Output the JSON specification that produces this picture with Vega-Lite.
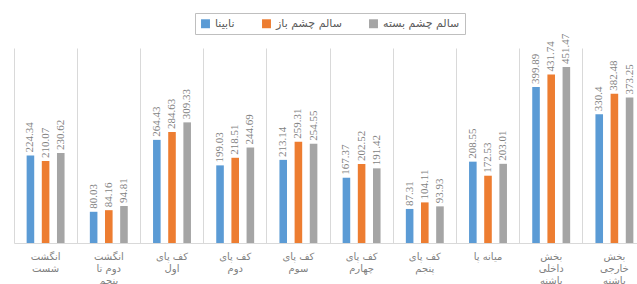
{
  "$schema": "https://vega.github.io/schema/vega-lite/v6.json",
  "width": 632,
  "height": 195,
  "autosize": {"type": "none"},
  "padding": {"left": 14, "top": 48, "right": 0, "bottom": 41},
  "background": "white",
  "data": {
    "values": [
      {"category": "انگشت شست", "group": "نابینا", "value": 224.34},
      {"category": "انگشت شست", "group": "سالم چشم باز", "value": 210.07},
      {"category": "انگشت شست", "group": "سالم چشم بسته", "value": 230.62},
      {"category": "انگشت دوم تا پنجم", "group": "نابینا", "value": 80.03},
      {"category": "انگشت دوم تا پنجم", "group": "سالم چشم باز", "value": 84.16},
      {"category": "انگشت دوم تا پنجم", "group": "سالم چشم بسته", "value": 94.81},
      {"category": "کف پای اول", "group": "نابینا", "value": 264.43},
      {"category": "کف پای اول", "group": "سالم چشم باز", "value": 284.63},
      {"category": "کف پای اول", "group": "سالم چشم بسته", "value": 309.33},
      {"category": "کف پای دوم", "group": "نابینا", "value": 199.03},
      {"category": "کف پای دوم", "group": "سالم چشم باز", "value": 218.51},
      {"category": "کف پای دوم", "group": "سالم چشم بسته", "value": 244.69},
      {"category": "کف پای سوم", "group": "نابینا", "value": 213.14},
      {"category": "کف پای سوم", "group": "سالم چشم باز", "value": 259.31},
      {"category": "کف پای سوم", "group": "سالم چشم بسته", "value": 254.55},
      {"category": "کف پای چهارم", "group": "نابینا", "value": 167.37},
      {"category": "کف پای چهارم", "group": "سالم چشم باز", "value": 202.52},
      {"category": "کف پای چهارم", "group": "سالم چشم بسته", "value": 191.42},
      {"category": "کف پای پنجم", "group": "نابینا", "value": 87.31},
      {"category": "کف پای پنجم", "group": "سالم چشم باز", "value": 104.11},
      {"category": "کف پای پنجم", "group": "سالم چشم بسته", "value": 93.93},
      {"category": "میانه پا", "group": "نابینا", "value": 208.55},
      {"category": "میانه پا", "group": "سالم چشم باز", "value": 172.53},
      {"category": "میانه پا", "group": "سالم چشم بسته", "value": 203.01},
      {"category": "بخش داخلی پاشنه", "group": "نابینا", "value": 399.89},
      {"category": "بخش داخلی پاشنه", "group": "سالم چشم باز", "value": 431.74},
      {"category": "بخش داخلی پاشنه", "group": "سالم چشم بسته", "value": 451.47},
      {"category": "بخش خارجی پاشنه", "group": "نابینا", "value": 330.4},
      {"category": "بخش خارجی پاشنه", "group": "سالم چشم باز", "value": 382.48},
      {"category": "بخش خارجی پاشنه", "group": "سالم چشم بسته", "value": 373.25}
    ]
  },
  "encoding": {
    "xOffset": {
      "field": "group",
      "type": "nominal",
      "sort": ["نابینا", "سالم چشم باز", "سالم چشم بسته"],
      "scale": {"paddingInner": 0.5}
    },
    "y": {
      "field": "value",
      "type": "quantitative",
      "scale": {"domain": [0, 500]},
      "axis": null
    }
  },
  "layer": [
    {
      "mark": {"type": "bar"},
      "encoding": {
        "x": {
          "field": "category",
          "type": "nominal",
          "sort": null,
          "scale": {"paddingInner": 0.4, "paddingOuter": 0.2},
          "axis": {
            "orient": "bottom",
            "title": null,
            "labels": false,
            "ticks": false,
            "domain": false,
            "grid": true,
            "gridColor": "#d9d9d9",
            "bandPosition": -0.3333
          }
        },
        "color": {
          "field": "group",
          "type": "nominal",
          "sort": ["نابینا", "سالم چشم باز", "سالم چشم بسته"],
          "scale": {
            "domain": ["نابینا", "سالم چشم باز", "سالم چشم بسته"],
            "range": ["#5B9BD5", "#ED7D31", "#A5A5A5"]
          },
          "legend": {
            "title": null,
            "orient": "top",
            "direction": "horizontal",
            "offset": 14,
            "padding": 5,
            "strokeColor": "#bfbfbf",
            "fillColor": "white",
            "symbolType": "square",
            "symbolSize": 80,
            "symbolStrokeWidth": 0,
            "labelFont": "DejaVu Sans",
            "labelFontSize": 11,
            "labelColor": "#595959",
            "columnPadding": 26
          }
        }
      }
    },
    {
      "mark": {
        "type": "text",
        "angle": 270,
        "align": "left",
        "baseline": "middle",
        "dx": 3,
        "font": "Liberation Sans Narrow",
        "fontSize": 11,
        "color": "#7f7f7f"
      },
      "encoding": {
        "x": {
          "field": "category",
          "type": "nominal",
          "sort": null,
          "axis": {
            "orient": "bottom",
            "title": null,
            "labelAngle": 0,
            "labelFont": "DejaVu Sans",
            "labelFontSize": 10,
            "labelColor": "#808080",
            "labelPadding": 8,
            "labelLineHeight": 12,
            "labelOverlap": false,
            "labelBaseline": "top",
            "ticks": false,
            "domainColor": "#d9d9d9",
            "grid": false,
            "labelExpr": "datum.value == 'انگشت دوم تا پنجم' ? ['انگشت', 'دوم تا', 'پنجم'] : indexof(datum.value, 'کف پای') == 0 ? ['کف پای', substring(datum.value, 7)] : datum.value == 'میانه پا' ? datum.value : split(datum.value, ' ')"
          }
        },
        "text": {"field": "value", "type": "quantitative"}
      }
    }
  ],
  "resolve": {"axis": {"x": "independent"}},
  "config": {
    "view": {"stroke": null},
    "legend": {"layout": {"top": {"anchor": "middle"}}}
  }
}
